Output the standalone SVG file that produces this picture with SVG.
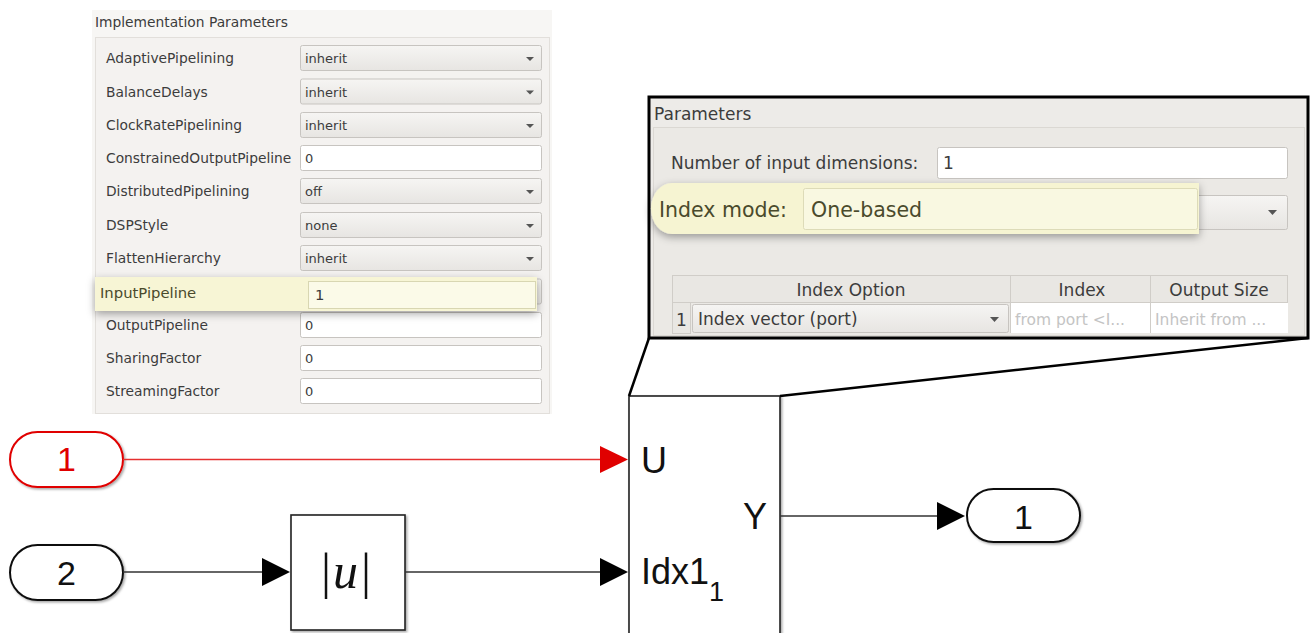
<svg xmlns="http://www.w3.org/2000/svg" width="1310" height="633" viewBox="0 0 1310 633">
<defs>
  <linearGradient id="dd" x1="0" y1="0" x2="0" y2="1">
    <stop offset="0" stop-color="#f6f5f3"/>
    <stop offset="1" stop-color="#e7e5e2"/>
  </linearGradient>
  <filter id="hl" x="-5%" y="-40%" width="110%" height="200%">
    <feDropShadow dx="0" dy="3" stdDeviation="4" flood-color="#000" flood-opacity="0.35"/>
  </filter>
  <filter id="sh" x="-10%" y="-10%" width="130%" height="130%">
    <feDropShadow dx="1.5" dy="1.5" stdDeviation="1" flood-color="#000" flood-opacity="0.35"/>
  </filter>
  <style>
    .ui { font-family: "DejaVu Sans", "Liberation Sans", sans-serif; fill: #3c3c3c; }
    .lbl { font-size: 13.8px; }
    .val { font-size: 13px; }
    .hlt { fill: #4a4a2c; }
    .dim { fill: #c4c4c4; font-size: 15.5px; }
    .fld { fill: #ffffff; stroke: #c7c4c0; stroke-width: 1; }
    .ddb { fill: url(#dd); stroke: #c7c4c0; stroke-width: 1; }
    .arr { fill: #555; }
    .rp { font-size: 17px; }
    .sl { font-family: "Liberation Sans", Arial, sans-serif; fill: #111; }
    .red { fill: #e00000; }
    .wire { stroke: #333; stroke-width: 1.3; fill: none; }
    .blk { fill: #fff; stroke: #222; stroke-width: 1.6; }
    .zoomline { stroke: #000; stroke-width: 2.5; fill: none; }
  </style>
</defs>
<rect width="1310" height="633" fill="#ffffff"/>

<!-- Implementation Parameters panel -->
<g id="impl-params">
  <rect x="92" y="10" width="460" height="404" fill="#f7f6f4"/>
  <text class="ui lbl" x="95" y="27">Implementation Parameters</text>
  <rect x="95.5" y="37.5" width="454" height="376" fill="#f4f2f0" stroke="#e2dfdb"/>
  <g>
    <text class="ui lbl" x="106" y="63">AdaptivePipelining</text>
    <rect class="ddb" x="300.5" y="45.5" width="241" height="25" rx="2"/>
    <text class="ui val" x="305" y="63">inherit</text>
    <path class="arr" d="M526 57 h8 l-4 4z"/>
  </g>
  <g>
    <text class="ui lbl" x="106" y="96.5">BalanceDelays</text>
    <rect class="ddb" x="300.5" y="79" width="241" height="25" rx="2"/>
    <text class="ui val" x="305" y="96.5">inherit</text>
    <path class="arr" d="M526 90.5 h8 l-4 4z"/>
  </g>
  <g>
    <text class="ui lbl" x="106" y="130">ClockRatePipelining</text>
    <rect class="ddb" x="300.5" y="112.5" width="241" height="25" rx="2"/>
    <text class="ui val" x="305" y="130">inherit</text>
    <path class="arr" d="M526 124 h8 l-4 4z"/>
  </g>
  <g>
    <text class="ui lbl" x="106" y="163">ConstrainedOutputPipeline</text>
    <rect class="fld" x="300.5" y="145.5" width="241" height="25" rx="2"/>
    <text class="ui val" x="305" y="163">0</text>
  </g>
  <g>
    <text class="ui lbl" x="106" y="196">DistributedPipelining</text>
    <rect class="ddb" x="300.5" y="178.5" width="241" height="25" rx="2"/>
    <text class="ui val" x="305" y="196">off</text>
    <path class="arr" d="M526 190 h8 l-4 4z"/>
  </g>
  <g>
    <text class="ui lbl" x="106" y="230">DSPStyle</text>
    <rect class="ddb" x="300.5" y="212.5" width="241" height="25" rx="2"/>
    <text class="ui val" x="305" y="230">none</text>
    <path class="arr" d="M526 224 h8 l-4 4z"/>
  </g>
  <g>
    <text class="ui lbl" x="106" y="263">FlattenHierarchy</text>
    <rect class="ddb" x="300.5" y="245.5" width="241" height="25" rx="2"/>
    <text class="ui val" x="305" y="263">inherit</text>
    <path class="arr" d="M526 257 h8 l-4 4z"/>
  </g>
  <rect class="ddb" x="300.5" y="279" width="241" height="25" rx="2"/>
  <g>
    <text class="ui lbl" x="106" y="330">OutputPipeline</text>
    <rect class="fld" x="300.5" y="312.5" width="241" height="25" rx="2"/>
    <text class="ui val" x="305" y="330">0</text>
  </g>
  <g>
    <text class="ui lbl" x="106" y="363">SharingFactor</text>
    <rect class="fld" x="300.5" y="345.5" width="241" height="25" rx="2"/>
    <text class="ui val" x="305" y="363">0</text>
  </g>
  <g>
    <text class="ui lbl" x="106" y="396">StreamingFactor</text>
    <rect class="fld" x="300.5" y="378.5" width="241" height="25" rx="2"/>
    <text class="ui val" x="305" y="396">0</text>
  </g>
  <!-- highlighted InputPipeline row -->
  <g id="input-pipeline-highlight">
    <rect x="95" y="277" width="442" height="34" fill="#f7f5d5" filter="url(#hl)"/>
    <rect x="308.5" y="281.5" width="227" height="27" fill="#fbfae8" stroke="#d8d6b2"/>
    <text class="ui hlt" x="100" y="298" font-size="14.8">InputPipeline</text>
    <text class="ui" x="315" y="300" font-size="14.8">1</text>
  </g>
</g>

<!-- Parameters panel (zoomed) -->
<g id="selector-params">
  <rect x="649" y="97" width="659" height="241" fill="#edebe8" stroke="#000" stroke-width="3"/>
  <text class="ui rp" x="654" y="120">Parameters</text>
  <rect x="653.5" y="127.5" width="651" height="208" fill="#ebe9e5" stroke="#dbd8d3"/>
  <text class="ui rp" x="671" y="169">Number of input dimensions:</text>
  <rect class="fld" x="937.5" y="147.5" width="350" height="31" rx="2"/>
  <text class="ui rp" x="943" y="169">1</text>
  <rect class="ddb" x="937.5" y="195.5" width="350" height="34" rx="2"/>
  <path class="arr" d="M1268 210 h9 l-4.5 5z"/>
  <!-- highlighted Index mode -->
  <g id="index-mode-highlight">
    <path d="M672 183 H1199 V234 H672 A21 25.5 0 0 1 651 208.5 A21 25.5 0 0 1 672 183 Z" fill="#f6f4d2" filter="url(#hl)"/>
    <rect x="803.5" y="188.5" width="394" height="41" rx="2" fill="#f9f8e1" stroke="#dddbb8"/>
    <text class="ui hlt" x="659" y="217" font-size="20.5">Index mode:</text>
    <text class="ui hlt" x="811" y="217" font-size="20.5">One-based</text>
  </g>
  <!-- table -->
  <rect x="672.5" y="275.5" width="615" height="27" fill="#e9e7e3" stroke="#d0cdc8"/>
  <line x1="1010.5" y1="275.5" x2="1010.5" y2="333" stroke="#d0cdc8"/>
  <line x1="1150.5" y1="275.5" x2="1150.5" y2="333" stroke="#d0cdc8"/>
  <text class="ui rp" x="851" y="296" text-anchor="middle">Index Option</text>
  <text class="ui rp" x="1082" y="296" text-anchor="middle">Index</text>
  <text class="ui rp" x="1219" y="296" text-anchor="middle">Output Size</text>
  <rect x="672.5" y="302.5" width="18" height="31" fill="#e9e7e3" stroke="#d0cdc8"/>
  <text class="ui rp" x="681.5" y="326" text-anchor="middle">1</text>
  <rect class="ddb" x="692.5" y="304.5" width="316" height="28" rx="2"/>
  <text class="ui rp" x="698" y="325">Index vector (port)</text>
  <path class="arr" d="M990 317 h9 l-4.5 5z"/>
  <rect x="1011" y="303" width="139" height="30" fill="#fff"/>
  <rect x="1151" y="303" width="137" height="30" fill="#fff"/>
  <text class="ui dim" x="1015" y="325">from port &lt;I...</text>
  <text class="ui dim" x="1155" y="325">Inherit from ...</text>
</g>

<!-- Simulink blocks -->
<g id="in1">
  <rect x="10" y="432" width="113" height="55" rx="27.5" fill="#fff" stroke="#e00000" stroke-width="2" filter="url(#sh)"/>
  <text class="sl red" x="66.5" y="471" font-size="34" text-anchor="middle">1</text>
</g>
<g id="in2">
  <rect x="10" y="545" width="113" height="55" rx="27.5" fill="#fff" stroke="#111" stroke-width="2" filter="url(#sh)"/>
  <text class="sl" x="66.5" y="585" font-size="34" text-anchor="middle">2</text>
</g>
<g id="abs">
  <rect class="blk" x="291" y="515" width="114" height="115" filter="url(#sh)"/>
  <text x="346" y="588" font-family="Liberation Serif, 'Times New Roman', serif" font-size="50" text-anchor="middle" fill="#111">|<tspan font-style="italic" dx="2">u</tspan><tspan dx="3">|</tspan></text>
</g>
<g id="selector">
  <rect class="blk" x="629" y="396" width="151" height="250" filter="url(#sh)"/>
  <text class="sl" x="641" y="473" font-size="36">U</text>
  <text class="sl" x="743" y="529" font-size="36">Y</text>
  <text class="sl" x="641" y="584" font-size="36">Idx1<tspan font-size="27" dy="17">1</tspan></text>
</g>
<g id="out1">
  <rect x="967" y="489" width="113" height="53" rx="26.5" fill="#fff" stroke="#111" stroke-width="2" filter="url(#sh)"/>
  <text class="sl" x="1023.5" y="529" font-size="34" text-anchor="middle">1</text>
</g>

<!-- Connectors -->
<g id="connectors">
  <line x1="123" y1="459.5" x2="601" y2="459.5" stroke="#e53030" stroke-width="1.3"/>
  <polygon points="600,446 628,459.5 600,473" fill="#e00000"/>
  <line class="wire" x1="123" y1="572" x2="263" y2="572"/>
  <polygon points="262,558 290,572 262,586" fill="#000"/>
  <line class="wire" x1="405" y1="572" x2="601" y2="572"/>
  <polygon points="600,558 628,572 600,586" fill="#000"/>
  <line class="wire" x1="780" y1="516" x2="938" y2="516"/>
  <polygon points="937,502 965,516 937,530" fill="#000"/>
  <!-- zoom callout lines -->
  <line class="zoomline" x1="649" y1="338" x2="629" y2="396"/>
  <line class="zoomline" x1="1308" y1="338" x2="780" y2="396"/>
</g>
</svg>
